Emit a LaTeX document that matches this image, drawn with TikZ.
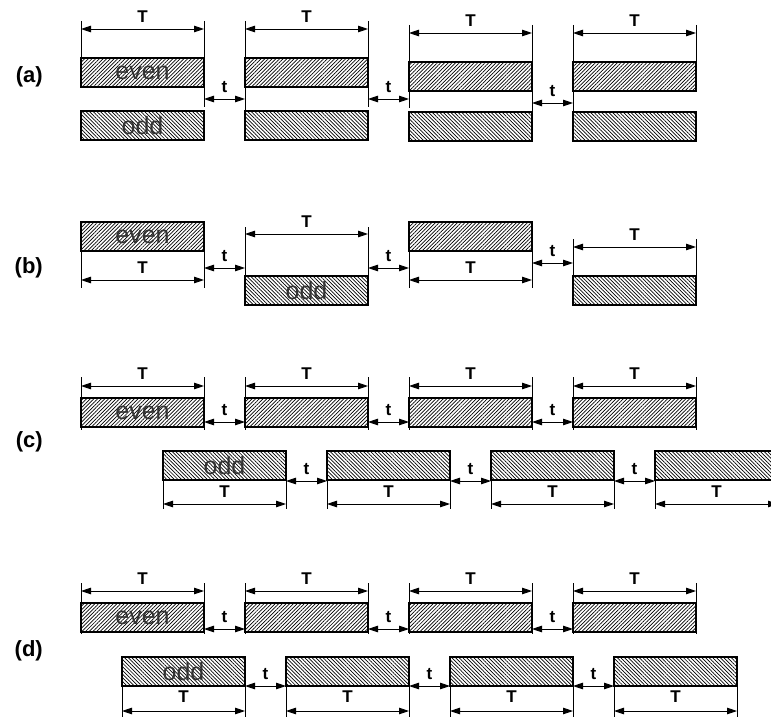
\documentclass[tikz,border=0pt]{standalone}
\usepackage{fontspec}
\setmainfont{Liberation Sans}
\usetikzlibrary{patterns.meta,arrows.meta,calc}
\tikzset{
 rectbase/.style={rectangle, draw, line width=1.8pt, minimum width=123pt, minimum height=29pt, inner sep=0pt, outer sep=0pt, anchor=north west, font=\fontsize{25}{25}\selectfont, text=black!80},
 evenbox/.style={rectbase, pattern={Lines[angle=45,distance=2.6pt,line width=0.7pt]}},
 oddbox/.style={rectbase, pattern={Lines[angle=-45,distance=2.6pt,line width=0.7pt]}},
 dimarrow/.style={line width=0.9pt, {Triangle[length=10pt,width=6.5pt]}-{Triangle[length=10pt,width=6.5pt]}},
 extl/.style={line width=0.7pt},
 lbl/.style={font=\bfseries\fontsize{17}{17}\selectfont, inner sep=0pt, yshift=12pt},
 seclbl/.style={font=\bfseries\fontsize{22}{22}\selectfont, inner sep=0pt, anchor=east},
}
\newcommand{\Tarr}[3]{\draw[dimarrow] ([yshift=#3]#1.#2 west) -- node[lbl]{T} ([yshift=#3]#1.#2 east);}
\begin{document}
\begin{tikzpicture}[x=1pt,y=1pt]
\useasboundingbox (0,0) rectangle (771,-717);
\clip (0,0) rectangle (771,-717);

% ---------- (a)
\node[seclbl] (la) at (43,-77) {(a)};
\node[evenbox] (ae1) at (81,-58) {even};
\node[evenbox] (ae2) at (245,-58) {};
\node[evenbox] (ae3) at (409,-62) {};
\node[evenbox] (ae4) at (573,-62) {};
\node[oddbox] (ao1) at (81,-111) {odd};
\node[oddbox] (ao2) at (245,-111) {};
\node[oddbox] (ao3) at (409,-112) {};
\node[oddbox] (ao4) at (573,-112) {};
\draw[extl] ([yshift=37pt]ae1.north west) -- (ae1.north west);
\draw[extl] ([yshift=37pt]ae1.north east) -- ([yshift=4pt]ao1.north east);
\draw[extl] ([yshift=37pt]ae2.north west) -- (ao2.north west);
\draw[extl] ([yshift=37pt]ae2.north east) -- ([yshift=4pt]ao2.north east);
\draw[extl] ([yshift=37pt]ae3.north west) -- ([yshift=4pt]ao3.north west);
\draw[extl] ([yshift=37pt]ae3.north east) -- (ao3.north east);
\draw[extl] ([yshift=37pt]ae4.north west) -- (ao4.north west);
\draw[extl] ([yshift=37pt]ae4.north east) -- (ae4.north east);
\foreach \i in {1,...,4} {\Tarr{ae\i}{north}{29pt}}
\foreach \i in {1,2,3} {
  \pgfmathtruncatemacro\j{\i+1}
  \coordinate (at\i) at ([yshift=-12pt]ae\i.south east);
  \draw[dimarrow] (at\i) -- node[lbl]{t} (at\i -| ae\j.west);
}

% ---------- (b)
\node[seclbl] (lb) at (43,-268) {(b)};
\node[evenbox] (be1) at (81,-222) {even};
\node[oddbox] (bo2) at (245,-276) {odd};
\node[evenbox] (be3) at (409,-222) {};
\node[oddbox] (bo4) at (573,-276) {};
\foreach \n in {be1,be3} {
  \draw[extl] (\n.south west) -- ([yshift=-37pt]\n.south west);
  \draw[extl] (\n.south east) -- ([yshift=-37pt]\n.south east);
  \Tarr{\n}{south}{-29pt}
}
\draw[extl] ([yshift=49pt]bo2.north west) -- (bo2.north west);
\draw[extl] ([yshift=49pt]bo2.north east) -- (bo2.north east);
\draw[extl] ([yshift=37pt]bo4.north west) -- (bo4.north west);
\draw[extl] ([yshift=37pt]bo4.north east) -- (bo4.north east);
\Tarr{bo2}{north}{42pt}
\Tarr{bo4}{north}{29pt}
\coordinate (bt1) at ([yshift=-17pt]be1.south east);
\draw[dimarrow] (bt1) -- node[lbl]{t} (bt1 -| bo2.west);
\coordinate (bt2) at ([yshift=-17pt]be3.south west);
\draw[dimarrow] (bt2 -| bo2.east) -- node[lbl]{t} (bt2);
\coordinate (bt3) at ([yshift=-12pt]be3.south east);
\draw[dimarrow] (bt3) -- node[lbl]{t} (bt3 -| bo4.west);

% ---------- (c)
\node[seclbl] (lc) at (43,-442) {(c)};
\node[evenbox] (ce1) at (81,-398) {even};
\node[evenbox] (ce2) at (245,-398) {};
\node[evenbox] (ce3) at (409,-398) {};
\node[evenbox] (ce4) at (573,-398) {};
\node[oddbox] (co1) at (163,-451) {odd};
\node[oddbox] (co2) at (327,-451) {};
\node[oddbox] (co3) at (491,-451) {};
\node[oddbox] (co4) at (655,-451) {};
\foreach \i in {1,...,4} {
  \draw[extl] ([yshift=21pt]ce\i.north west) -- ([yshift=-3pt]ce\i.south west);
  \draw[extl] ([yshift=21pt]ce\i.north east) -- ([yshift=-3pt]ce\i.south east);
  \Tarr{ce\i}{north}{12pt}
  \draw[extl] (co\i.south west) -- ([yshift=-29pt]co\i.south west);
  \draw[extl] (co\i.south east) -- ([yshift=-29pt]co\i.south east);
  \Tarr{co\i}{south}{-24pt}
}
\foreach \i in {1,2,3} {
  \pgfmathtruncatemacro\j{\i+1}
  \coordinate (ct\i) at ([yshift=5pt]ce\i.south east);
  \draw[dimarrow] (ct\i) -- node[lbl]{t} (ct\i -| ce\j.west);
  \coordinate (cu\i) at ([yshift=-1pt]co\i.south east);
  \draw[dimarrow] (cu\i) -- node[lbl]{t} (cu\i -| co\j.west);
}

% ---------- (d)
\node[seclbl] (ld) at (43,-651) {(d)};
\node[evenbox] (de1) at (81,-603) {even};
\node[evenbox] (de2) at (245,-603) {};
\node[evenbox] (de3) at (409,-603) {};
\node[evenbox] (de4) at (573,-603) {};
\node[oddbox] (do1) at (122,-657) {odd};
\node[oddbox] (do2) at (286,-657) {};
\node[oddbox] (do3) at (450,-657) {};
\node[oddbox] (do4) at (614,-657) {};
\foreach \i in {1,...,4} {
  \draw[extl] ([yshift=20pt]de\i.north west) -- ([yshift=-2pt]de\i.south west);
  \draw[extl] ([yshift=20pt]de\i.north east) -- ([yshift=-2pt]de\i.south east);
  \Tarr{de\i}{north}{12pt}
  \draw[extl] (do\i.south west) -- ([yshift=-34pt]do\i.south west);
  \draw[extl] (do\i.south east) -- ([yshift=-34pt]do\i.south east);
  \draw[dimarrow] ([yshift=-25pt]do\i.south west) -- node[lbl,yshift=2pt]{T} ([yshift=-25pt]do\i.south east);
}
\foreach \i in {1,2,3} {
  \pgfmathtruncatemacro\j{\i+1}
  \coordinate (dt\i) at ([yshift=3pt]de\i.south east);
  \draw[dimarrow] (dt\i) -- node[lbl]{t} (dt\i -| de\j.west);
  \coordinate (du\i) at (do\i.south east);
  \draw[dimarrow] (du\i) -- node[lbl]{t} (du\i -| do\j.west);
}
\end{tikzpicture}
\end{document}
